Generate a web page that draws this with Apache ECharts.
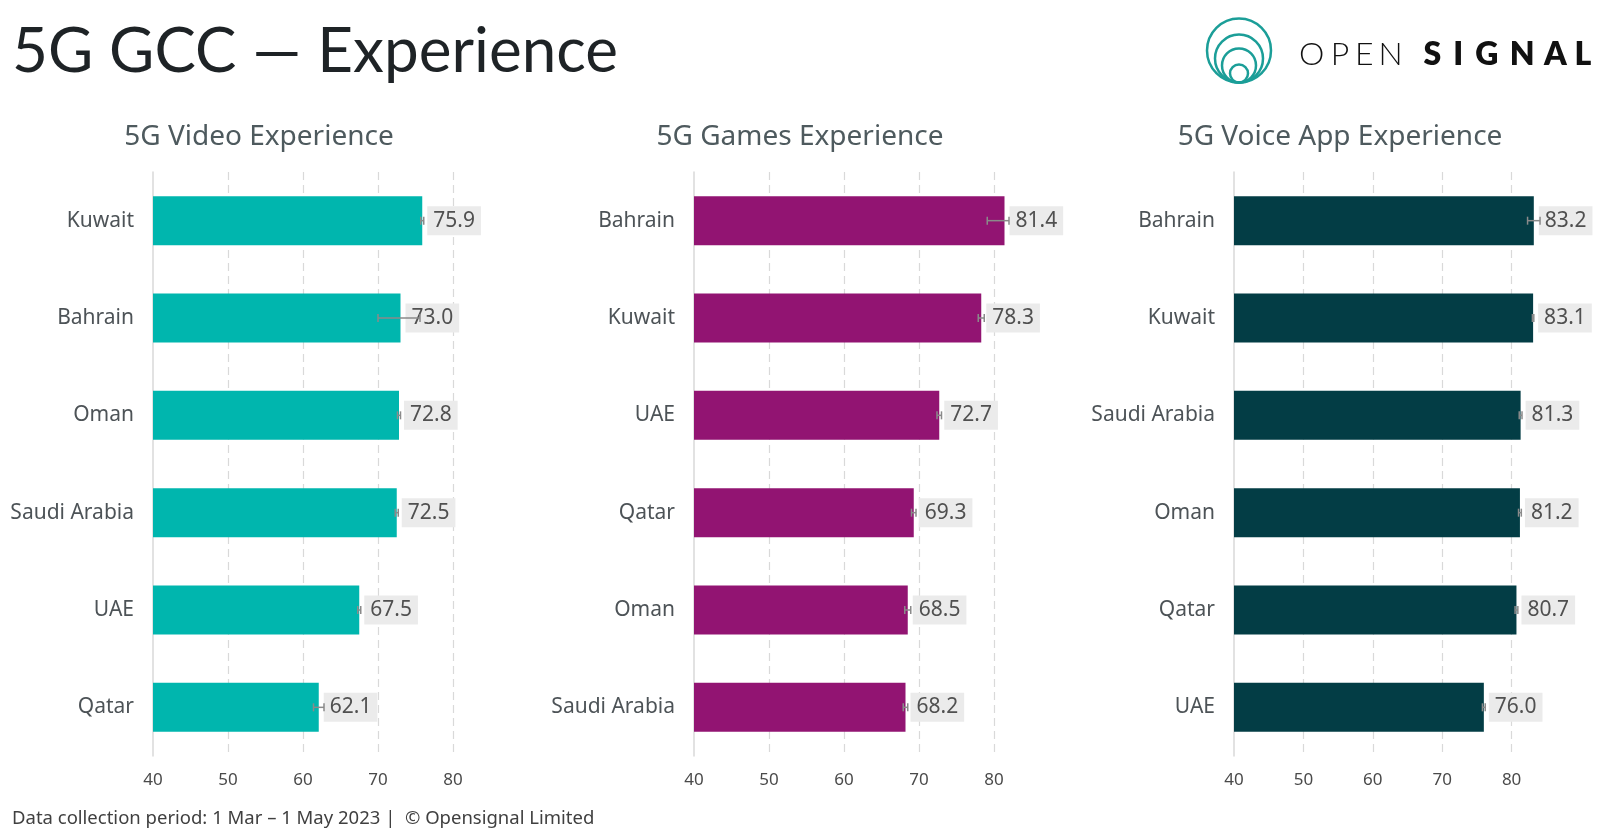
<!DOCTYPE html>
<html>
<head>
<meta charset="utf-8">
<script src="https://cdn.jsdelivr.net/npm/echarts@6/dist/echarts.min.js"></script>
<style>
html,body{margin:0;padding:0;background:#fff;}
#chart{width:1600px;height:836px;}
</style>
</head>
<body>
<div id="chart"></div>
<script>
// ---- data ----
const panelTitles = ['5G Video Experience', '5G Games Experience', '5G Voice App Experience'];

const videoCategories = ['Kuwait', 'Bahrain', 'Oman', 'Saudi Arabia', 'UAE', 'Qatar'];
const videoValues = [75.9, 73.0, 72.8, 72.5, 67.5, 62.1];
const videoLow  = [75.7, 70.0, 72.6, 72.3, 67.3, 61.4];
const videoHigh = [76.1, 75.6, 73.0, 72.7, 67.7, 62.8];

const gamesCategories = ['Bahrain', 'Kuwait', 'UAE', 'Qatar', 'Oman', 'Saudi Arabia'];
const gamesValues = [81.4, 78.3, 72.7, 69.3, 68.5, 68.2];
const gamesLow  = [79.1, 77.9, 72.4, 69.0, 68.1, 67.9];
const gamesHigh = [82.0, 78.7, 73.0, 69.6, 68.9, 68.5];

const voiceCategories = ['Bahrain', 'Kuwait', 'Saudi Arabia', 'Oman', 'Qatar', 'UAE'];
const voiceValues = [83.2, 83.1, 81.3, 81.2, 80.7, 76.0];
const voiceLow  = [82.3, 83.0, 81.1, 81.0, 80.5, 75.8];
const voiceHigh = [84.1, 83.2, 81.5, 81.4, 80.9, 76.2];

const xTicks = [40, 50, 60, 70, 80];
const mainTitle = '5G GCC \u2014 Experience';
const footerText = 'Data collection period: 1 Mar \u2013 1 May 2023 |  \u00A9 Opensignal Limited';
const logoOpen = ['O', 'P', 'E', 'N'];
const logoSignal = ['S', 'I', 'G', 'N', 'A', 'L'];

// ---- styling / layout ----
const FONT = '"Noto Sans", "DejaVu Sans", sans-serif';
const panels = [
  { cats: videoCategories, vals: videoValues, low: videoLow, high: videoHigh, color: '#00b6ae', left: 153, width: 375, tx: 259 },
  { cats: gamesCategories, vals: gamesValues, low: gamesLow, high: gamesHigh, color: '#921472', left: 694, width: 375, tx: 800 },
  { cats: voiceCategories, vals: voiceValues, low: voiceLow, high: voiceHigh, color: '#033d45', left: 1234, width: 347, tx: 1340 }
];

const grid = [], xAxis = [], yAxis = [], series = [];
panels.forEach((p, i) => {
  grid.push({ left: p.left, top: 172, width: p.width, height: 584 });
  xAxis.push({
    type: 'value', gridIndex: i, min: 40, max: 90, interval: 10,
    axisLine: { show: false }, axisTick: { show: false },
    axisLabel: {
      showMaxLabel: false, fontFamily: FONT, fontSize: 17, color: '#4a4a4a', margin: 16,
      formatter: v => (xTicks.indexOf(v) >= 0 ? String(v) : '')
    },
    splitLine: { show: true, showMinLine: false, showMaxLine: false,
      lineStyle: { color: '#d9d9d9', width: 1.2, type: [8, 5] } }
  });
  yAxis.push({
    type: 'category', gridIndex: i, data: p.cats, inverse: true,
    axisLine: { show: true, lineStyle: { color: '#d9d9d9', width: 1.5 } },
    axisTick: { show: false },
    axisLabel: { fontFamily: FONT, fontSize: 21, color: '#4d5357', margin: 19, padding: [8, 0, 0, 0] },
    splitLine: { show: false }
  });
  series.push({
    type: 'bar', xAxisIndex: i, yAxisIndex: i, data: p.vals, barWidth: 49,
    itemStyle: { color: p.color }, z: 2,
    label: {
      show: true, position: 'right', distance: 5,
      formatter: q => q.value.toFixed(1),
      fontFamily: FONT, fontSize: 21, color: '#505050',
      backgroundColor: '#ebebeb', padding: [5, 6, 3, 6], lineHeight: 21
    }
  });
  series.push({
    type: 'custom', xAxisIndex: i, yAxisIndex: i, z: 5,
    data: p.low.map((l, k) => [l, p.high[k], k]),
    encode: { x: [0, 1], y: 2 },
    renderItem: (params, api) => {
      const a = api.coord([api.value(0), api.value(2)]);
      const b = api.coord([api.value(1), api.value(2)]);
      const h = 4;
      const st = { stroke: '#8a8a8a', lineWidth: 1.5 };
      return { type: 'group', children: [
        { type: 'line', shape: { x1: a[0], y1: a[1], x2: b[0], y2: b[1] }, style: st },
        { type: 'line', shape: { x1: a[0], y1: a[1] - h, x2: a[0], y2: a[1] + h }, style: st },
        { type: 'line', shape: { x1: b[0], y1: b[1] - h, x2: b[0], y2: b[1] + h }, style: st }
      ] };
    }
  });
});

const graphic = [];
graphic.push({ type: 'text', x: 12, y: 52, style: {
  text: mainTitle, font: '400 62px Lato, "Noto Sans", sans-serif', fill: '#1e2326',
  textAlign: 'left', textVerticalAlign: 'middle' } });
panels.forEach((p, i) => {
  graphic.push({ type: 'text', x: p.tx, y: 137, style: {
    text: panelTitles[i], font: '400 28px ' + FONT, fill: '#4e5a5e',
    textAlign: 'center', textVerticalAlign: 'middle' } });
});
graphic.push({ type: 'text', x: 12, y: 819, style: {
  text: footerText, font: '400 18.5px ' + FONT, fill: '#404040',
  textAlign: 'left', textVerticalAlign: 'middle' } });

// logo: concentric circles tangent at bottom
const logoColor = '#1b9e98';
[[32, 1239], [24, 1239], [17, 1239], [9, 1239]].forEach(([r, cx]) => {
  graphic.push({ type: 'circle', shape: { cx: cx, cy: 82.5 - r, r: r },
    style: { fill: 'none', stroke: logoColor, lineWidth: 2.5 } });
});
const openX = [1311.7, 1340, 1364.3, 1390.7];
const signalX = [1432.3, 1458.3, 1486.7, 1522.3, 1555.3, 1583];
logoOpen.forEach((ch, k) => graphic.push({ type: 'text', x: openX[k], y: 55, style: {
  text: ch, font: '300 32px Lato, "Noto Sans", sans-serif', fill: '#111',
  textAlign: 'center', textVerticalAlign: 'middle' } }));
logoSignal.forEach((ch, k) => graphic.push({ type: 'text', x: signalX[k], y: 55, style: {
  text: ch, font: '800 32px Lato, "Noto Sans", sans-serif', fill: '#111',
  textAlign: 'center', textVerticalAlign: 'middle' } }));

const chart = echarts.init(document.getElementById('chart'), null, { renderer: 'canvas' });
chart.setOption({ animation: false, backgroundColor: '#ffffff', grid, xAxis, yAxis, series, graphic });
</script>
</body>
</html>
